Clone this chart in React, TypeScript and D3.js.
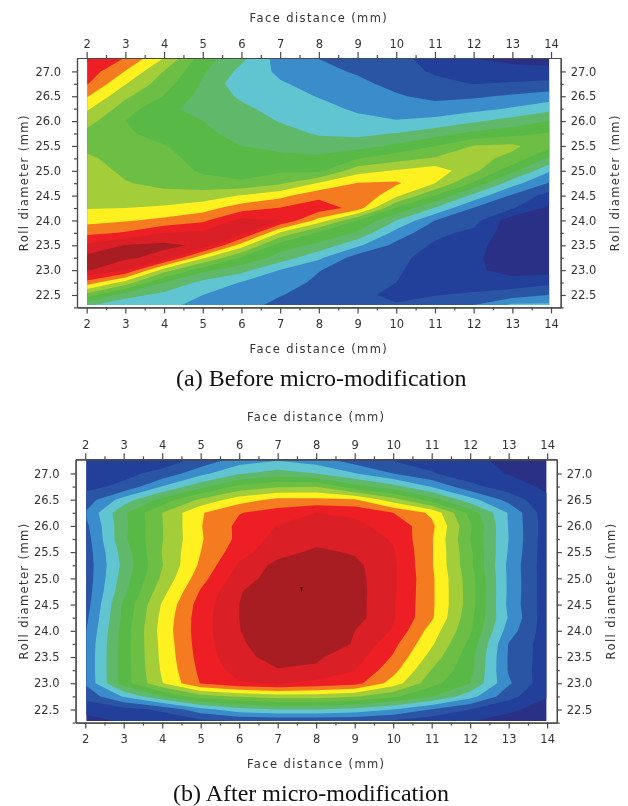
import React, { useEffect, useRef } from 'react';
import * as d3 from 'd3';

// contour band colours, lowest to highest
const bandColors = ['#2a3086', '#22409a', '#2a55a5', '#3a8ccb', '#60c5d0', '#60b96a', '#58b947', '#6dbe45',
    '#a3cd39', '#fff01f', '#f47b20', '#ed1f24', '#da1f26', '#a81d21'];
const bandLevels = bandColors.map((_, i) => i);

const faceDistance = [2, 3, 4, 5, 6, 7, 8, 9, 10, 11, 12, 13, 14];
const rollDiameter = [27.25, 27, 26.75, 26.5, 26.25, 26, 25.75, 25.5, 25.25, 25, 24.75, 24.5, 24.25, 24, 23.75, 23.5, 23.25, 23, 22.75, 22.5, 22.25];

const faceTicks = [2, 3, 4, 5, 6, 7, 8, 9, 10, 11, 12, 13, 14];
const faceMinorTicks = [2.5, 3.5, 4.5, 5.5, 6.5, 7.5, 8.5, 9.5, 10.5, 11.5, 12.5, 13.5];
const rollTicks = [22.5, 23, 23.5, 24, 24.5, 25, 25.5, 26, 26.5, 27];
const rollMinorTicks = [22.25, 22.75, 23.25, 23.75, 24.25, 24.75, 25.25, 25.75, 26.25, 26.75];

// band value per face distance column, top row (27.25) to bottom row (22.25)
const beforeValues = [
    [12.2, 11.6, 11.1, 10.1, 9.15, 8.4, 7.7, 7.8, 8.15, 8.35, 8.55, 8.75, 8.95, 9.65, 10.75, 12.2, 13.3, 13.1, 10.6, 7.6, 4.8],
    [10.9, 9.95, 9.05, 8.2, 7.5, 7.0, 7.2, 7.4, 7.65, 7.85, 8.05, 8.55, 9.0, 9.9, 11.1, 13.05, 13.2, 12.0, 8.6, 5.4, 4.1],
    [8.9, 7.95, 7.45, 6.95, 6.2, 6.1, 6.5, 7.05, 7.3, 7.55, 7.8, 8.25, 9.2, 10.25, 12.0, 13.25, 12.6, 8.5, 6.0, 4.7, 4.3],
    [6.45, 6.15, 5.85, 5.65, 5.7, 6.0, 6.2, 6.45, 6.65, 6.85, 7.4, 8.5, 9.55, 10.8, 12.2, 12.8, 9.2, 6.3, 4.7, 4.0, 3.4],
    [5.2, 4.7, 4.35, 4.85, 5.2, 5.45, 5.7, 6.0, 6.3, 6.55, 7.2, 9.05, 10.55, 12.3, 12.4, 9.5, 6.9, 5.35, 3.95, 3.5, 3.3],
    [3.55, 3.8, 4.1, 4.4, 4.65, 4.95, 5.35, 5.75, 6.25, 6.85, 7.85, 9.7, 11.05, 12.05, 8.85, 6.45, 5.6, 3.95, 3.55, 3.05, 2.65],
    [3.0, 3.25, 3.65, 3.95, 4.3, 4.6, 4.9, 5.45, 6.25, 6.75, 9.1, 10.7, 11.6, 9.6, 6.8, 5.75, 4.2, 3.05, 2.75, 2.55, 2.4],
    [2.6, 2.9, 3.2, 3.5, 3.85, 4.25, 4.75, 5.6, 6.95, 8.6, 10.05, 10.95, 10.6, 7.0, 5.85, 4.2, 2.5, 2.35, 2.3, 2.15, 2.2],
    [2.3, 2.5, 2.75, 3.1, 3.6, 4.05, 5.05, 6.2, 7.6, 9.1, 10.15, 9.25, 6.9, 5.0, 3.6, 2.7, 2.3, 2.15, 2.0, 1.85, 2.1],
    [1.6, 1.85, 2.3, 2.75, 3.4, 4.3, 5.55, 7.0, 8.1, 9.55, 9.0, 7.0, 4.9, 3.0, 2.25, 1.85, 1.55, 1.4, 1.5, 1.95, 2.7],
    [1.05, 1.55, 1.97, 2.85, 3.7, 4.85, 6.25, 8.05, 8.3, 8.3, 6.85, 4.7, 2.95, 2.35, 1.75, 1.35, 1.2, 1.2, 1.4, 2.2, 3.2],
    [0.7, 1.4, 2.1, 3.15, 4.1, 5.4, 6.65, 8.2, 7.75, 6.3, 4.4, 2.85, 2.1, 0.4, 0.4, 0.4, 0.4, 0.6, 1.45, 2.5, 4.6],
    [0.8, 1.15, 2.35, 3.45, 4.7, 6.05, 7.1, 7.3, 5.7, 4.05, 2.85, 1.55, 0.7, 0.7, 0.6, 0.6, 0.6, 0.6, 1.75, 3.05, 4.5],
];

const afterValues = [
    [1.2, 1.5, 1.75, 2.4, 3.05, 2.7, 2.5, 2.4, 2.35, 2.35, 2.4, 2.5, 2.7, 2.9, 3.1, 3.15, 3.15, 3.1, 2.3, 1.4, 0.4],
    [1.3, 1.75, 2.2, 4.45, 5.8, 5.75, 5.8, 5.45, 5.3, 5.5, 5.75, 6.2, 6.3, 6.45, 6.5, 6.5, 6.5, 6.5, 4.1, 1.6, 1.0],
    [1.5, 2.3, 4.05, 6.35, 8.0, 7.95, 7.95, 8.05, 7.95, 8.2, 8.65, 9.1, 9.3, 9.4, 9.3, 9.25, 9.15, 8.95, 5.9, 2.2, 1.2],
    [2.3, 3.7, 5.65, 8.2, 9.9, 9.95, 9.9, 10.0, 10.2, 10.6, 11.1, 11.45, 11.55, 11.55, 11.5, 11.4, 11.25, 11.05, 7.6, 3.6, 1.5],
    [3.5, 4.9, 7.3, 9.55, 10.95, 11.25, 11.25, 11.6, 12.15, 12.55, 12.95, 13.0, 13.0, 12.98, 12.9, 12.75, 12.4, 11.9, 8.1, 4.6, 1.7],
    [3.95, 5.4, 7.9, 10.25, 11.45, 12.05, 12.35, 12.65, 13.3, 13.45, 13.5, 13.5, 13.5, 13.5, 13.4, 13.3, 12.95, 12.1, 8.5, 5.0, 1.7],
    [3.5, 5.0, 7.95, 10.25, 12.0, 12.3, 12.7, 13.2, 13.5, 13.6, 13.65, 13.6, 13.6, 13.5, 13.4, 13.15, 12.85, 11.7, 8.5, 5.0, 1.7],
    [2.5, 4.05, 6.4, 10.1, 11.85, 12.2, 12.6, 12.9, 13.25, 13.35, 13.4, 13.4, 13.4, 13.0, 12.95, 12.45, 12.05, 11.4, 8.1, 4.7, 1.7],
    [1.95, 3.0, 5.4, 8.45, 11.0, 11.7, 11.9, 12.1, 12.2, 12.2, 12.15, 12.1, 12.1, 11.9, 11.3, 10.9, 10.35, 9.55, 7.2, 4.0, 1.55],
    [1.5, 2.1, 3.9, 6.5, 9.8, 10.25, 10.1, 10.1, 10.1, 10.2, 10.2, 10.2, 10.15, 9.55, 9.15, 8.6, 7.95, 7.35, 6.05, 2.95, 1.2],
    [1.3, 1.4, 2.3, 4.4, 6.65, 7.15, 7.0, 7.2, 7.25, 7.45, 7.5, 7.5, 7.3, 7.15, 6.7, 6.4, 6.3, 6.0, 4.4, 2.0, 0.95],
    [0.7, 0.95, 1.45, 2.65, 3.9, 3.95, 4.0, 3.9, 3.75, 3.8, 3.8, 3.75, 3.9, 3.5, 2.95, 2.9, 2.9, 3.15, 2.35, 1.2, 0.5],
    [0.6, 0.6, 0.8, 1.2, 1.35, 1.4, 1.35, 1.35, 1.35, 1.35, 1.35, 1.35, 1.35, 1.4, 1.45, 1.45, 1.4, 1.3, 1.05, 0.6, 0.3],
];

const afterSpot = [7.62, 24.8];

const axisColor = '#4a4a4a';
const labelFont = '"DejaVu Sans", sans-serif';

const Panel = ({ id, values, xRange, yRange, clip, spot, caption, captionX, captionY, titleTop, titleBottom, labelLeft, labelRight }: any) => {
    const gRef = useRef<SVGGElement>(null);

    const xScale = d3.scaleLinear().domain([1.75, 14.25]).range(xRange);
    const yScale = d3.scaleLinear().domain([22.25, 27.27]).range(yRange);

    const nx = faceDistance.length;
    const ny = rollDiameter.length;
    const flat = new Array(nx * ny);
    values.forEach((col: number[], i: number) => col.forEach((v, j) => { flat[j * nx + i] = v; }));

    const contours = d3.contours().size([nx, ny]).thresholds(bandLevels)(flat);
    // grid index to data units: value i sits at i + 0.5 in contour space
    const path = d3.geoPath(d3.geoTransform({
        point(x, y) {
            const fx = faceDistance[0] + (x - 0.5) * (faceDistance[1] - faceDistance[0]);
            const ry = rollDiameter[0] + (y - 0.5) * (rollDiameter[1] - rollDiameter[0]);
            this.stream.point(xScale(fx), yScale(ry));
        },
    }));

    useEffect(() => {
        const g = d3.select(gRef.current);
        g.selectAll('*').remove();

        const drawAxis = (axis: any, minorAxis: any, tx: number, ty: number) => {
            const major = g.append('g').attr('transform', `translate(${tx},${ty})`).call(axis);
            g.append('g').attr('transform', `translate(${tx},${ty})`).call(minorAxis);
            major.selectAll('text')
                .attr('fill', '#333')
                .style('font-family', labelFont)
                .style('font-size', '11.5px');
        };

        const xRangeEnds = xScale.range();
        const yRangeEnds = yScale.range();
        const xMajor = (a: any, pad: number) => a(xScale).tickValues(faceTicks).tickFormat(d3.format('d')).tickSize(6).tickSizeOuter(0).tickPadding(pad);
        const xMinor = (a: any) => a(xScale).tickValues(faceMinorTicks).tickFormat(() => '').tickSize(3).tickSizeOuter(0);
        const yMajor = (a: any, pad: number) => a(yScale).tickValues(rollTicks).tickFormat(d3.format('.1f')).tickSize(5).tickSizeOuter(0).tickPadding(pad);
        const yMinor = (a: any) => a(yScale).tickValues(rollMinorTicks).tickFormat(() => '').tickSize(3).tickSizeOuter(0);

        drawAxis(xMajor(d3.axisTop, 4), xMinor(d3.axisTop), 0, yRangeEnds[1]);
        drawAxis(xMajor(d3.axisBottom, 6), xMinor(d3.axisBottom), 0, yRangeEnds[0]);
        drawAxis(yMajor(d3.axisLeft, 11), yMinor(d3.axisLeft), xRangeEnds[0], 0);
        drawAxis(yMajor(d3.axisRight, 5), yMinor(d3.axisRight), xRangeEnds[1], 0);

        g.selectAll('.domain, line').attr('stroke', axisColor).attr('stroke-width', 1.2);
    }, []);

    const midX = (xRange[0] + xRange[1]) / 2;
    const midY = (yRange[0] + yRange[1]) / 2;
    const textStyle = { fontFamily: labelFont, fontSize: 11.5, letterSpacing: 1.4, fill: '#333' };

    return (
        <g filter="url(#soften)">
            <defs>
                <clipPath id={id}>
                    <rect x={xScale(clip[0])} y={yScale(clip[3])} width={xScale(clip[1]) - xScale(clip[0])} height={yScale(clip[2]) - yScale(clip[3])} />
                </clipPath>
            </defs>
            <g clipPath={`url(#${id})`}>
                {contours.map((c: any, i: number) => (
                    <path key={i} d={path(c) as string} fill={bandColors[i]} />
                ))}
                {spot && (
                    <path d={d3.symbol(d3.symbolTriangle, 9)() as string}
                        transform={`translate(${xScale(spot[0])},${yScale(spot[1])}) rotate(180) scale(0.6,1.4)`} fill="#4a1210" />
                )}
            </g>
            <g ref={gRef} />
            <text x={midX} y={titleTop} textAnchor="middle" style={textStyle}>Face distance (mm)</text>
            <text x={midX} y={titleBottom} textAnchor="middle" style={textStyle}>Face distance (mm)</text>
            <text transform={`translate(${labelLeft},${midY}) rotate(-90)`} textAnchor="middle" style={textStyle}>Roll diameter (mm)</text>
            <text transform={`translate(${labelRight},${midY}) rotate(-90)`} textAnchor="middle" style={textStyle}>Roll diameter (mm)</text>
            <text x={captionX} y={captionY} style={{ fontFamily: '"Liberation Serif", serif', fontSize: 24, fill: '#111' }}>{caption}</text>
        </g>
    );
};

const App = () => (
    <svg width={628} height={806} style={{ position: 'absolute', left: 0, top: 0, background: '#fff' }}>
        <defs>
            <filter id="soften" x="0" y="0" width="628" height="806" filterUnits="userSpaceOnUse" colorInterpolationFilters="sRGB">
                <feGaussianBlur stdDeviation="0.45" />
            </filter>
        </defs>
        <Panel id="before" values={beforeValues} xRange={[77, 560.7]} yRange={[307.4, 58]}
            clip={[2.015, 13.95, 22.3, 27.27]}
            caption="(a) Before micro-modification" captionX={176} captionY={386}
            titleTop={22} titleBottom={353} labelLeft={28} labelRight={619} />
        <Panel id="after" values={afterValues} xRange={[75.6, 556.8]} yRange={[722.6, 459.3]}
            clip={[2.03, 13.98, 22.28, 27.27]} spot={afterSpot}
            caption="(b) After micro-modification" captionX={173} captionY={801}
            titleTop={421} titleBottom={768} labelLeft={28} labelRight={615} />
    </svg>
);

export default App;
